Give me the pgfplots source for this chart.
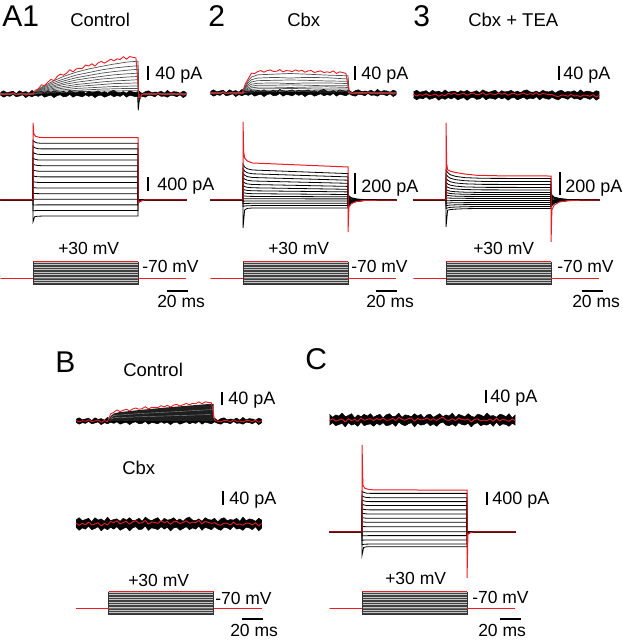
\documentclass[border=0pt]{standalone}
\usepackage{pgfplots}
\pgfplotsset{compat=1.18}
\usepgfplotslibrary{fillbetween}
\usepackage{pgfplotstable}
\usepackage{fontspec}
\setmainfont{Liberation Sans}
\definecolor{rd}{RGB}{232,30,36}
\newcommand\fL{\fontsize{30}{32}\selectfont}
\newcommand\fT{\fontsize{18.5}{20}\selectfont}
\newcommand\fS{\fontsize{18}{20}\selectfont}
\newcommand\fP{\fontsize{17.5}{19}\selectfont}
\tikzset{
  stp/.style={black, line width=0.8pt},
  pl/.style={black!75, line width=0.3pt},
  fam/.style={black!68, line width=0.7pt},
  edge/.style={black, line width=0.5pt, line join=round},
  nz/.style={rd, line width=0.9pt, line join=round},
  bar/.style={black, line width=1.6pt},
  lab/.style={anchor=base west, inner sep=0pt},
}

% voltage protocol, t in ms, V in mV
\pgfplotstableread{
t v0 v1 v2 v3 v4 v5 v6 v7 v8 v9 v10 v11 v12 v13
-31 -70 -70 -70 -70 -70 -70 -70 -70 -70 -70 -70 -70 -70 -70
0 -70 -70 -70 -70 -70 -70 -70 -70 -70 -70 -70 -70 -70 -70
0 -110 -100 -90 -80 -70 -60 -50 -40 -30 -20 -10 0 10 20
100 -110 -100 -90 -80 -70 -60 -50 -40 -30 -20 -10 0 10 20
100 -70 -70 -70 -70 -70 -70 -70 -70 -70 -70 -70 -70 -70 -70
146 -70 -70 -70 -70 -70 -70 -70 -70 -70 -70 -70 -70 -70 -70
}\prot

% A1 control, current steps (pA)
\pgfplotstableread{
t c0 c1 c2 c3 c4 c5 c6 c7 c8 c9 c10 c11 c12 c13
-31 0 0 0 0 0 0 0 0 0 0 0 0 0 0
0 0 0 0 0 0 0 0 0 0 0 0 0 0 0
0 -620 -310 -142 26 194 362 530 698 866 1034 1202 1370 1538 1706
1.5 -480 -305 -141 23 186 350 514 677 841 1004 1168 1332 1495 1659
4 -464 -301 -140 21 182 343 504 665 826 986 1147 1308 1469 1630
8 -460 -300 -140 20 180 340 500 660 820 980 1140 1300 1460 1620
100 -460 -300 -140 20 180 340 500 660 820 980 1140 1300 1460 1620
100 23 15 7 -1 -9 -17 -25 -33 -41 -49 -57 -65 -73 -81
102 9 6 3 0 -4 -7 -10 -13 -16 -20 -23 -26 -29 -32
106 0 0 0 0 0 0 0 0 0 0 0 0 0 0
146 0 0 0 0 0 0 0 0 0 0 0 0 0 0
}\stepA

% 2 Cbx
\pgfplotstableread{
t c0 c1 c2 c3 c4 c5 c6 c7 c8 c9 c10 c11 c12 c13
-31 0 0 0 0 0 0 0 0 0 0 0 0 0 0
0 0 0 0 0 0 0 0 0 0 0 0 0 0 0
0 -280 -64 -38 -12 14 43 76 110 146 186 228 270 314 360
1.5 -100 -60 -36 -11 13 40 70 101 134 171 209 248 288 330
4 -84 -58 -34 -10 12 37 66 96 127 161 198 234 272 312
9 -80 -56 -33 -10 12 36 63 92 122 155 190 225 262 300
100 -80 -56 -33 -10 11 32 55 81 107 136 167 198 231 264
100 48 34 20 6 -3 -8 -14 -20 -27 -34 -42 -50 -58 -66
103 24 17 10 3 -2 -4 -7 -10 -14 -17 -21 -25 -29 -33
108 11 7 4 1 -1 -2 -3 -4 -6 -7 -9 -11 -13 -15
116 3 2 1 0 0 -1 -1 -1 -2 -2 -3 -4 -4 -5
146 0 0 0 0 0 0 0 0 0 0 0 0 0 0
}\stepB

% 3 Cbx + TEA
\pgfplotstableread{
t c0 c1 c2 c3 c4 c5 c6 c7 c8 c9 c10 c11 c12 c13
-31 0 0 0 0 0 0 0 0 0 0 0 0 0 0
0 0 0 0 0 0 0 0 0 0 0 0 0 0 0
0 -245 -77 -53 -30 -7 20 45 70 95 127 160 197 235 273
1.5 -93 -72 -49 -28 -6 18 41 64 87 116 146 180 215 250
4 -87 -67 -46 -26 -6 17 38 59 80 107 135 166 198 230
9 -83 -64 -44 -25 -5 16 35 55 75 100 126 155 185 215
18 -79 -61 -42 -24 -5 15 33 52 71 95 119 147 175 203
35 -77 -59 -41 -23 -5 14 32 50 68 92 115 142 169 197
100 -77 -59 -41 -23 -5 14 32 50 68 91 114 141 168 195
100 54 41 29 16 4 -4 -10 -15 -20 -27 -34 -42 -50 -59
103 27 21 15 8 2 -2 -5 -8 -10 -14 -17 -21 -25 -30
108 14 10 7 4 1 -1 -3 -4 -5 -7 -9 -11 -13 -15
116 5 4 3 2 0 0 -1 -2 -2 -3 -3 -4 -5 -6
128 2 1 1 0 0 0 0 0 -1 -1 -1 -1 -2 -2
146 0 0 0 0 0 0 0 0 0 0 0 0 0 0
}\stepC

% C
\pgfplotstableread{
t c0 c1 c2 c3 c4 c5 c6 c7 c8 c9 c10 c11 c12 c13
-31 0 0 0 0 0 0 0 0 0 0 0 0 0 0
0 0 0 0 0 0 0 0 0 0 0 0 0 0 0
0 -700 -387 -254 -117 11 170 313 440 578 710 848 975 1102 1240
1.5 -470 -375 -246 -113 10 164 303 426 560 688 822 945 1068 1202
4 -450 -368 -242 -111 10 161 297 418 549 675 806 927 1047 1178
8 -445 -365 -240 -110 10 160 295 415 545 670 800 920 1040 1170
100 -445 -365 -240 -110 10 160 295 415 545 670 800 920 1040 1170
100 27 22 14 7 -1 -10 -18 -25 -33 -40 -48 -55 -62 -70
102 11 9 6 3 0 -4 -7 -10 -13 -16 -19 -22 -25 -28
106 0 0 0 0 0 0 0 0 0 0 0 0 0 0
146 0 0 0 0 0 0 0 0 0 0 0 0 0 0
}\stepD

% noisy traces (pA)
\pgfplotstableread{
t n2 w2 w1 rA r2 r3 rBc rBx rC
-31 -1 -2 4 2 2 2 2 3 -2
-28 3 6 -6 -3 -3 -3 -3 -4 4
-25 -2 -4 2 1 1 1 1 2 -3
-22 0 0 -2 -1 -1 -1 -1 -2 0
-19 2 4 8 4 4 4 4 6 3
-16 -4 -8 -4 -2 -2 -2 -2 -3 -6
-13 3 6 0 0 0 0 0 0 4
-10 -1 -2 6 3 3 3 3 4 -2
-7 1 2 -8 -4 -4 -4 -4 -6 2
-4 -3 -6 2 1 1 1 1 2 -4
-1 4 8 -4 -2 -2 -2 -2 -3 6
2 -2 -4 4 11 27 5 22 8 -1
5 0 0 -2 16 44 2 27 4 2
8 1 2 6 28 61 6 34 10 4
11 -3 -6 -6 26 60 0 29 0 -2
14 2 4 0 36 66 3 33 5 5
17 -1 -2 4 45 69 5 36 8 0
20 3 6 -8 41 64 -1 31 -1 6
23 -2 -4 2 54 69 4 37 7 -1
26 -1 -2 6 61 71 6 40 10 0
29 2 4 -4 58 66 1 36 2 5
32 -3 -6 -2 64 67 2 38 4 -2
35 4 8 8 75 72 7 44 11 8
38 0 0 -6 68 65 0 37 0 2
41 -2 -4 2 77 69 4 42 6 -1
44 1 2 0 79 68 3 42 5 4
47 3 6 -4 79 66 1 41 2 6
50 -4 -8 6 89 71 6 47 10 -4
53 2 4 -2 86 67 2 44 4 5
56 -1 -2 4 93 70 5 48 8 0
59 0 0 -8 86 64 -1 43 -1 2
62 3 6 2 96 68 4 49 7 6
65 -2 -4 4 100 69 5 51 8 -1
68 1 2 -6 95 63 0 46 1 4
71 -3 -6 0 101 66 3 50 5 -2
74 2 4 6 107 68 6 54 10 5
77 4 8 -4 102 63 1 50 2 8
80 -1 -2 2 108 65 4 54 6 0
83 -2 -4 -2 106 63 2 53 4 -1
86 1 2 8 115 68 7 59 11 4
89 -3 -6 -6 107 60 0 53 0 -2
92 3 6 4 115 65 5 59 8 6
95 0 0 0 113 63 3 57 5 2
98 -1 -2 -4 111 60 1 56 2 0
101 2 4 6 -12 3 1 3 4 3
104 -4 -8 -2 -1 -1 -3 -1 -2 -6
107 1 2 -6 -3 -3 -5 -3 -4 2
110 3 6 4 2 2 0 2 3 4
113 -2 -4 2 1 1 -1 1 2 -3
116 0 0 -4 -2 -2 -4 -2 -3 0
119 -1 -2 8 4 4 2 4 6 -2
122 2 4 -2 -1 -1 -3 -1 -2 3
125 -3 -6 0 0 0 -2 0 0 -4
128 4 8 -6 -3 -3 -5 -3 -4 6
131 -2 -4 4 2 2 0 2 3 -3
134 1 2 2 1 1 -1 1 2 2
137 0 0 -4 -2 -2 -4 -2 -3 0
140 -3 -6 6 3 3 1 3 4 -4
143 2 4 -8 -4 -4 -6 -4 -6 3
146 -1 -2 2 1 1 -1 1 2 -2
}\noise

% A1 growing family (pA)
\pgfplotstableread{
t f1 f2 f3 f4 f5 f6 f7 f8 f9 f10
-31 0 0 0 0 0 0 0 0 0 0
0 0 0 0 0 0 0 0 0 0 0
5 15 13 11 10 8 6 5 4 3 2
11 26 23 20 17 14 11 9 7 5 3
20 41 36 31 26 22 18 14 10 7 4
29 54 46 40 34 29 23 18 13 9 5
41 67 58 50 43 36 29 23 17 11 7
53 77 66 57 49 41 33 26 19 13 8
65 85 74 64 54 46 37 29 21 15 9
77 92 80 69 59 49 40 32 23 16 9
89 98 84 73 62 52 42 33 24 17 10
100 101 87 76 64 54 44 34 25 17 10
100.5 -26 -23 -20 -17 -14 -11 -9 -7 -5 -3
104 0 0 0 0 0 0 0 0 0 0
146 0 0 0 0 0 0 0 0 0 0
}\famA

% 2 Cbx family (pA)
\pgfplotstableread{
t f1 f2 f3 f4 f5 f6 f7 f8 f9
-31 0 0 0 0 0 0 0 0 0
0 0 0 0 0 0 0 0 0 0
2 21 18 15 12 9 7 5 3 2
5 38 32 26 21 16 12 9 5 3
8 49 41 34 27 21 16 11 7 3
14 56 46 38 30 24 18 13 8 4
30 58 48 39 31 24 18 13 8 4
45 60 46 40 29 25 17 14 7 5
60 58 48 39 31 24 18 13 8 4
80 55 47 37 31 22 19 12 9 3
100 53 43 36 29 22 17 12 7 4
101 0 0 0 0 0 0 0 0 0
146 0 0 0 0 0 0 0 0 0
}\famB

\begin{document}
\begin{tikzpicture}
\begin{axis}[width=622pt, height=640pt, scale only axis,
  xmin=0, xmax=622, ymin=0, ymax=640, y dir=reverse,
  hide axis, clip=false]
\addplot[draw=none] coordinates {(0,0) (622,640)};

%% ---------- A1 control ----------
\pgfplotsinvokeforeach{1,...,10}{
  \addplot[fam] table[x expr=33+1.05*\thisrow{t}, y expr=94-0.325*\thisrow{f#1}] {\famA};}
\addplot[edge, name path=aU] table[x expr=33+1.05*\thisrow{t}, y expr=92-0.4*\thisrow{n2}] {\noise};
\addplot[edge, name path=aL] table[x expr=33+1.05*\thisrow{t}, y expr=96-0.2*\thisrow{w1}] {\noise};
\addplot[black] fill between[of=aU and aL];
\addplot[black, line width=0.8pt] table[x expr=33+1.05*\thisrow{t}, y expr=94-0.325*\thisrow{I}, row sep=\\]
  {t I\\ 99.5 0\\ 100.2 -50\\ 101.5 -8\\ 103 0\\};
\addplot[nz] table[x expr=33+1.05*\thisrow{t}, y expr=94-0.325*\thisrow{rA}] {\noise};

\pgfplotsinvokeforeach{0,...,13}{
  \addplot[stp] table[x expr=33+1.05*\thisrow{t}, y expr=200-0.035*\thisrow{c#1}] {\stepA};}
\addplot[rd, line width=1pt] table[x expr=33+1.05*\thisrow{t}, y expr=200-0.035*\thisrow{I}, row sep=\\]
  {t I\\ -31 0\\ 0 0\\ 0 2200\\ 0.8 1880\\ 2.5 1820\\ 6 1790\\ 12 1780\\ 100 1780\\ 100 -89\\ 102 -36\\ 106 0\\ 146 0\\};

%% ---------- 2 Cbx ----------
\pgfplotsinvokeforeach{1,...,9}{
  \addplot[fam] table[x expr=243+1.05*\thisrow{t}, y expr=93-0.325*\thisrow{f#1}] {\famB};}
\addplot[edge, name path=bU] table[x expr=243+1.05*\thisrow{t}, y expr=91-0.4*\thisrow{n2}] {\noise};
\addplot[edge, name path=bL] table[x expr=243+1.05*\thisrow{t}, y expr=95-0.2*\thisrow{w1}] {\noise};
\addplot[black] fill between[of=bU and bL];
\addplot[nz] table[x expr=243+1.05*\thisrow{t}, y expr=93-0.325*\thisrow{r2}] {\noise};

\pgfplotsinvokeforeach{0,...,13}{
  \addplot[stp] table[x expr=243+1.05*\thisrow{t}, y expr=200-0.1*\thisrow{c#1}] {\stepB};}
\addplot[rd, line width=1pt] table[x expr=243+1.05*\thisrow{t}, y expr=200-0.1*\thisrow{I}, row sep=\\]
  {t I\\ -31 0\\ 0 0\\ 0 780\\ 0.6 480\\ 1.5 420\\ 4 390\\ 9 370\\ 100 330\\ 100 -320\\ 100.8 -74\\ 103 -37\\ 108 -15\\ 116 -4\\ 146 0\\};

%% ---------- 3 Cbx + TEA ----------
\addplot[edge, name path=cU] table[x expr=446+1.05*\thisrow{t}, y expr=91.5-0.4*\thisrow{n2}] {\noise};
\addplot[edge, name path=cL] table[x expr=446+1.05*\thisrow{t}, y expr=98.5-0.22*\thisrow{w1}] {\noise};
\addplot[black] fill between[of=cU and cL];
\addplot[nz] table[x expr=446+1.05*\thisrow{t}, y expr=95-0.325*\thisrow{r3}] {\noise};

\pgfplotsinvokeforeach{0,...,13}{
  \addplot[stp] table[x expr=446+1.05*\thisrow{t}, y expr=200-0.11*\thisrow{c#1}] {\stepC};}
\addplot[rd, line width=1pt] table[x expr=446+1.05*\thisrow{t}, y expr=200-0.11*\thisrow{I}, row sep=\\]
  {t I\\ -31 0\\ 0 0\\ 0 700\\ 0.6 330\\ 1.5 275\\ 4 262\\ 9 250\\ 18 236\\ 29 225\\ 50 220\\ 100 218\\ 100 -380\\ 100.8 -90\\ 103 -45\\ 108 -18\\ 116 -6\\ 128 -2\\ 146 0\\};

%% ---------- B ----------
\addplot[edge, name path=dU] table[x expr=108.5+1.05*\thisrow{t}, y expr=419-0.4*\thisrow{n2}] {\noise};
\addplot[edge, name path=dL] table[x expr=108.5+1.05*\thisrow{t}, y expr=423-0.2*\thisrow{w1}] {\noise};
\addplot[black] fill between[of=dU and dL];
\addplot[fill=black!88, draw=none] table[x expr=108.5+1.05*\thisrow{t}, y expr=421-0.325*\thisrow{I}, row sep=\\]
  {t I\\ 0 0\\ 2 15\\ 5 23\\ 10 27\\ 30 34\\ 60 43\\ 98 53\\ 100 53\\ 100 0\\};
\addplot[black!45, line width=0.4pt] table[x expr=108.5+1.05*\thisrow{t}, y expr=421-0.325*\thisrow{I}, row sep=\\]
  {t I\\ 2 9\\ 5 17\\ 30 23\\ 60 28\\ 98 35\\};
\addplot[black!45, line width=0.4pt] table[x expr=108.5+1.05*\thisrow{t}, y expr=421-0.325*\thisrow{I}, row sep=\\]
  {t I\\ 2 5\\ 5 10\\ 30 13\\ 60 16\\ 98 20\\};
\addplot[nz] table[x expr=108.5+1.05*\thisrow{t}, y expr=421-0.325*\thisrow{rBc}] {\noise};

\addplot[edge, name path=eU] table[x expr=108.5+1.05*\thisrow{t}, y expr=519.5-0.3*\thisrow{w2}] {\noise};
\addplot[edge, name path=eL] table[x expr=108.5+1.05*\thisrow{t}, y expr=528.5-0.3*\thisrow{w1}] {\noise};
\addplot[black] fill between[of=eU and eL];
\addplot[nz] table[x expr=108.5+1.05*\thisrow{t}, y expr=524-0.325*\thisrow{rBx}] {\noise};

%% ---------- C ----------
\addplot[edge, name path=fU] table[x expr=362+1.05*\thisrow{t}, y expr=415.5-0.3*\thisrow{w1}] {\noise};
\addplot[edge, name path=fL] table[x expr=362+1.05*\thisrow{t}, y expr=424.5-0.3*\thisrow{w2}] {\noise};
\addplot[black] fill between[of=fU and fL];
\addplot[nz] table[x expr=362+1.05*\thisrow{t}, y expr=420-0.325*\thisrow{rC}] {\noise};

\pgfplotsinvokeforeach{0,...,13}{
  \addplot[stp] table[x expr=362+1.05*\thisrow{t}, y expr=532-0.033*\thisrow{c#1}] {\stepD};}
\addplot[rd, line width=1pt] table[x expr=362+1.05*\thisrow{t}, y expr=532-0.033*\thisrow{I}, row sep=\\]
  {t I\\ -31 0\\ 0 0\\ 0 2640\\ 0.8 1420\\ 2.5 1330\\ 6 1290\\ 12 1275\\ 100 1270\\ 100 -1390\\ 100.8 -80\\ 102 -30\\ 106 0\\ 146 0\\};

%% ---------- voltage protocols ----------
\foreach \xo/\yo in {33/278, 243/278, 446/278, 108.5/608, 362/608} {
  \edef\temp{\noexpand\addplot[fill=gray!45, draw=none] table[x expr=\xo+1.05*\noexpand\thisrow{t}, y expr=\yo-0.164*(\noexpand\thisrow{v}+70), row sep=\noexpand\\]
    {t v\noexpand\\ 0 -110\noexpand\\ 0 30\noexpand\\ 100 30\noexpand\\ 100 -110\noexpand\\};}
  \temp
  \foreach \k in {0,...,13} {
    \edef\temp{\noexpand\addplot[pl] table[x expr=\xo+1.05*\noexpand\thisrow{t}, y expr=\yo-0.164*(\noexpand\thisrow{v\k}+70)] {\noexpand\prot};}
    \temp
  }
  \edef\temp{\noexpand\addplot[black!80, line width=0.6pt] table[x expr=\xo+1.05*\noexpand\thisrow{t}, y expr=\yo-0.164*(\noexpand\thisrow{v}+70), row sep=\noexpand\\]
    {t v\noexpand\\ 0 30\noexpand\\ 0 -110\noexpand\\ 100 -110\noexpand\\ 100 30\noexpand\\};}
  \temp
  \edef\temp{\noexpand\addplot[rd, line width=0.9pt] table[x expr=\xo+1.05*\noexpand\thisrow{t}, y expr=\yo-0.164*(\noexpand\thisrow{v}+70), row sep=\noexpand\\]
    {t v\noexpand\\ -31 -70\noexpand\\ 0 -70\noexpand\\};}
  \temp
  \edef\temp{\noexpand\addplot[rd, line width=0.9pt] table[x expr=\xo+1.05*\noexpand\thisrow{t}, y expr=\yo-0.164*(\noexpand\thisrow{v}+70), row sep=\noexpand\\]
    {t v\noexpand\\ 0 30\noexpand\\ 100 30\noexpand\\};}
  \temp
  \edef\temp{\noexpand\addplot[rd, line width=0.9pt] table[x expr=\xo+1.05*\noexpand\thisrow{t}, y expr=\yo-0.164*(\noexpand\thisrow{v}+70), row sep=\noexpand\\]
    {t v\noexpand\\ 100 -70\noexpand\\ 146 -70\noexpand\\};}
  \temp
}

%% ---------- scale bars ----------
\addplot[bar] coordinates {(148,66) (148,80)};
\addplot[bar] coordinates {(355,66) (355,80)};
\addplot[bar] coordinates {(559,66) (559,80)};
\addplot[bar, line width=1.3pt] coordinates {(148,177) (148,191)};
\addplot[bar] coordinates {(355,173) (355,194)};
\addplot[bar] coordinates {(560,172) (560,195)};
\addplot[bar] coordinates {(222,392) (222,405)};
\addplot[bar] coordinates {(223,491) (223,505)};
\addplot[bar] coordinates {(486,390) (486,403)};
\addplot[bar, line width=1.3pt] coordinates {(487,492) (487,505)};
\addplot[bar, line width=1.3pt] coordinates {(167,291) (188,291)};
\addplot[bar, line width=1.3pt] coordinates {(376,291) (397,291)};
\addplot[bar, line width=1.3pt] coordinates {(582,291) (603,291)};
\addplot[bar, line width=1.3pt] coordinates {(242,619) (263,619)};
\addplot[bar, line width=1.3pt] coordinates {(500,619) (521,619)};

%% ---------- text ----------
\node[lab, font=\fL] at (axis cs:2,27) {A1};
\node[lab, font=\fT] at (axis cs:70,27) {Control};
\node[lab, font=\fL] at (axis cs:208,27) {2};
\node[lab, font=\fT] at (axis cs:287,27) {Cbx};
\node[lab, font=\fL] at (axis cs:413,27) {3};
\node[lab, font=\fT] at (axis cs:468,27) {Cbx + TEA};
\node[lab, font=\fL] at (axis cs:55,373) {B};
\node[lab, font=\fT] at (axis cs:123,377) {Control};
\node[lab, font=\fT] at (axis cs:122,475) {Cbx};
\node[lab, font=\fL] at (axis cs:305,370) {C};

\node[lab, font=\fS] at (axis cs:155,80) {40 pA};
\node[lab, font=\fS] at (axis cs:361,80) {40 pA};
\node[lab, font=\fS] at (axis cs:563,80) {40 pA};
\node[lab, font=\fS] at (axis cs:157,191) {400 pA};
\node[lab, font=\fS] at (axis cs:361,193) {200 pA};
\node[lab, font=\fS] at (axis cs:565,193) {200 pA};
\node[lab, font=\fS] at (axis cs:228,405) {40 pA};
\node[lab, font=\fS] at (axis cs:229,505) {40 pA};
\node[lab, font=\fS] at (axis cs:490,403) {40 pA};
\node[lab, font=\fS] at (axis cs:492,505) {400 pA};

\node[lab, font=\fP] at (axis cs:58,255) {+30 mV};
\node[lab, font=\fP] at (axis cs:142,273) {-70 mV};
\node[lab, font=\fP] at (axis cs:157,308) {20 ms};
\node[lab, font=\fP] at (axis cs:268,255) {+30 mV};
\node[lab, font=\fP] at (axis cs:351,273) {-70 mV};
\node[lab, font=\fP] at (axis cs:366,308) {20 ms};
\node[lab, font=\fP] at (axis cs:473,255) {+30 mV};
\node[lab, font=\fP] at (axis cs:557,273) {-70 mV};
\node[lab, font=\fP] at (axis cs:572,308) {20 ms};
\node[lab, font=\fP] at (axis cs:128,587) {+30 mV};
\node[lab, font=\fP] at (axis cs:215,605) {-70 mV};
\node[lab, font=\fP] at (axis cs:230,636) {20 ms};
\node[lab, font=\fP] at (axis cs:385,585) {+30 mV};
\node[lab, font=\fP] at (axis cs:472,604) {-70 mV};
\node[lab, font=\fP] at (axis cs:478,636) {20 ms};
\end{axis}
\end{tikzpicture}
\end{document}
